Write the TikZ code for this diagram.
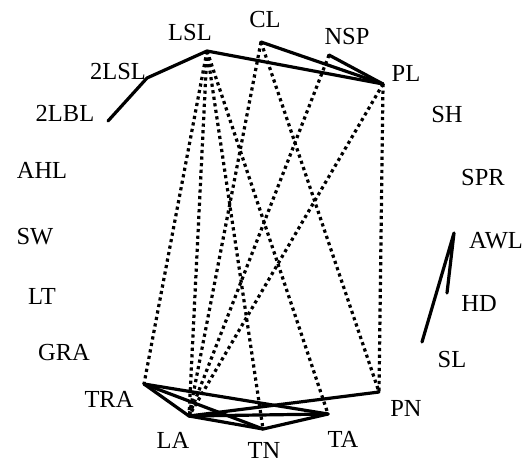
\documentclass[tikz,border=0pt]{standalone}
\usepackage{fontspec}
\setmainfont{Liberation Serif}
\begin{document}
\begin{tikzpicture}[x=1pt,y=-1pt,
  lab/.style={font=\fontsize{24.5}{26}\selectfont, inner sep=0pt},
  solidedge/.style={line width=3.2pt, line cap=round, line join=round},
  dotedge/.style={line width=3.2pt, dash pattern=on 3.2pt off 3.4pt}]
\useasboundingbox (0,0) rectangle (529,464);
% labels
\node[lab] (nLSL) at (190,33) {LSL};
\node[lab] (nCL) at (265,20) {CL};
\node[lab] (nNSP) at (347,37) {NSP};
\node[lab] (nPL) at (406,73) {PL};
\node[lab] (n2LSL) at (118,72) {2LSL};
\node[lab] (n2LBL) at (65,113) {2LBL};
\node[lab] (nAHL) at (42,170) {AHL};
\node[lab] (nSW) at (35,237) {SW};
\node[lab] (nLT) at (42,296) {LT};
\node[lab] (nGRA) at (64,352) {GRA};
\node[lab] (nTRA) at (109,399) {TRA};
\node[lab] (nLA) at (173,440) {LA};
\node[lab] (nTN) at (264,450) {TN};
\node[lab] (nTA) at (343,439) {TA};
\node[lab] (nPN) at (406,408) {PN};
\node[lab] (nSL) at (452,359) {SL};
\node[lab] (nHD) at (479,303) {HD};
\node[lab] (nAWL) at (496,241) {AWL};
\node[lab] (nSH) at (447,115) {SH};
\node[lab] (nSPR) at (483,178) {SPR};
% vertex points
\coordinate (pLSL) at (207,51);
\coordinate (pCL) at (261,42);
\coordinate (pNSP) at (329,55);
\coordinate (pPL) at (383,84);
\coordinate (p2LSL) at (147,78);
\coordinate (p2LBL) at (108,121);
\coordinate (pTRA) at (144,384);
\coordinate (pLA) at (189,416);
\coordinate (pTN) at (263,429);
\coordinate (pTA) at (328,414);
\coordinate (pPN) at (379,392);
\coordinate (pAWL) at (454,233);
\coordinate (pHD) at (447,293);
\coordinate (pSL) at (422,342);
% dotted connectors
\draw[dotedge] (pLSL) -- (pTRA);
\draw[dotedge] (pLSL) -- (pLA);
\draw[dotedge] (pLSL) -- (pTN);
\draw[dotedge] (pLSL) -- (pTA);
\draw[dotedge] (pCL) -- (pLA);
\draw[dotedge] (pCL) -- (pPN);
\draw[dotedge] (pNSP) -- (pLA);
\draw[dotedge] (pPL) -- (pLA);
\draw[dotedge] (pPL) -- (pPN);
% solid connectors
\draw[solidedge] (p2LBL) -- (p2LSL) -- (pLSL) -- (pPL);
\draw[solidedge] (pCL) -- (pPL);
\draw[solidedge] (pNSP) -- (pPL);
\draw[solidedge] (pTRA) -- (pLA);
\draw[solidedge] (pTRA) -- (pTN);
\draw[solidedge] (pTRA) -- (pTA);
\draw[solidedge] (pLA) -- (pTN);
\draw[solidedge] (pLA) -- (pTA);
\draw[solidedge] (pLA) -- (pPN);
\draw[solidedge] (pTN) -- (pTA);
\draw[solidedge] (pSL) -- (pAWL) -- (pHD);
\end{tikzpicture}
\end{document}
